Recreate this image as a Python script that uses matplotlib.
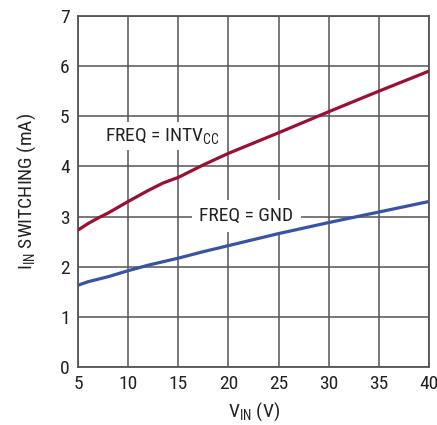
import matplotlib
matplotlib.use("Agg")
import matplotlib.pyplot as plt
from matplotlib import font_manager

fl = font_manager.fontManager.ttflist
names = {f.name for f in fl}
fam = None
stretch = 'normal'
for cand in ['Liberation Sans Narrow', 'Roboto Condensed', 'Open Sans Condensed',
             'DejaVu Sans Condensed', 'Arial Narrow', 'Noto Sans Condensed']:
    if cand in names:
        fam = cand
        break
if fam is None:
    for cand in ['Roboto', 'Noto Sans', 'Open Sans', 'DejaVu Sans']:
        hits = [f for f in fl if f.name == cand and f.stretch in ('condensed', 'semi-condensed', 'extra-condensed', 75, 87.5)
                and f.style == 'normal']
        if hits:
            fam = cand
            stretch = 'condensed'
            break
if fam is None:
    fam = 'Liberation Sans'
    fsz = 12
else:
    fsz = 14

plt.rcParams['font.family'] = [fam, 'DejaVu Sans']
plt.rcParams['font.stretch'] = stretch
plt.rcParams['mathtext.fontset'] = 'custom'
plt.rcParams['mathtext.rm'] = fam
plt.rcParams['mathtext.it'] = fam

vin = [5, 6, 7, 8, 10, 12, 13.5, 15, 17.5, 20, 25, 30, 35, 40]
i_intvcc = [2.73, 2.86, 2.97, 3.07, 3.30, 3.52, 3.67, 3.78, 4.03, 4.26, 4.67, 5.09, 5.50, 5.90]
i_gnd = [1.63, 1.70, 1.75, 1.80, 1.92, 2.03, 2.10, 2.17, 2.30, 2.42, 2.66, 2.88, 3.09, 3.30]
xticks = [5, 10, 15, 20, 25, 30, 35, 40]
yticks = [0, 1, 2, 3, 4, 5, 6, 7]

fig = plt.figure(figsize=(4.37, 4.25), dpi=100)
ax = fig.add_axes([0.1785, 0.1365, 0.8032, 0.826])
gc = '#555555'
tc = '#222222'
ax.plot(vin, i_intvcc, color='#9b0f32', lw=2.3, solid_capstyle='butt', zorder=3)
ax.plot(vin, i_gnd, color='#3653a5', lw=2.3, solid_capstyle='butt', zorder=3)
ax.set_xlim(5, 40)
ax.set_ylim(0, 7)
ax.set_xticks(xticks)
ax.set_yticks(yticks)
ax.grid(True, color=gc, lw=1.1)
ax.set_axisbelow(True)
for s in ax.spines.values():
    s.set_color(gc)
    s.set_linewidth(1.3)
ax.tick_params(length=0, labelsize=fsz, colors=tc, pad=6)
ax.set_xlabel(r'V$_{\rm IN}$ (V)', fontsize=fsz, color=tc, labelpad=5)
ax.set_ylabel(r'I$_{\rm IN}$ SWITCHING (mA)', fontsize=fsz, color=tc, labelpad=16)

ax.text(13.4, 4.6, r'FREQ = INTV$_{\rm CC}$', fontsize=fsz, ha='center', va='center',
        color=tc, bbox=dict(facecolor='white', edgecolor='none', pad=3), zorder=2.5)
ax.text(21.8, 3.02, 'FREQ = GND', fontsize=fsz, ha='center', va='center',
        color=tc, bbox=dict(facecolor='white', edgecolor='none', pad=5), zorder=2.5)

fig.savefig('out.png', dpi=100)
